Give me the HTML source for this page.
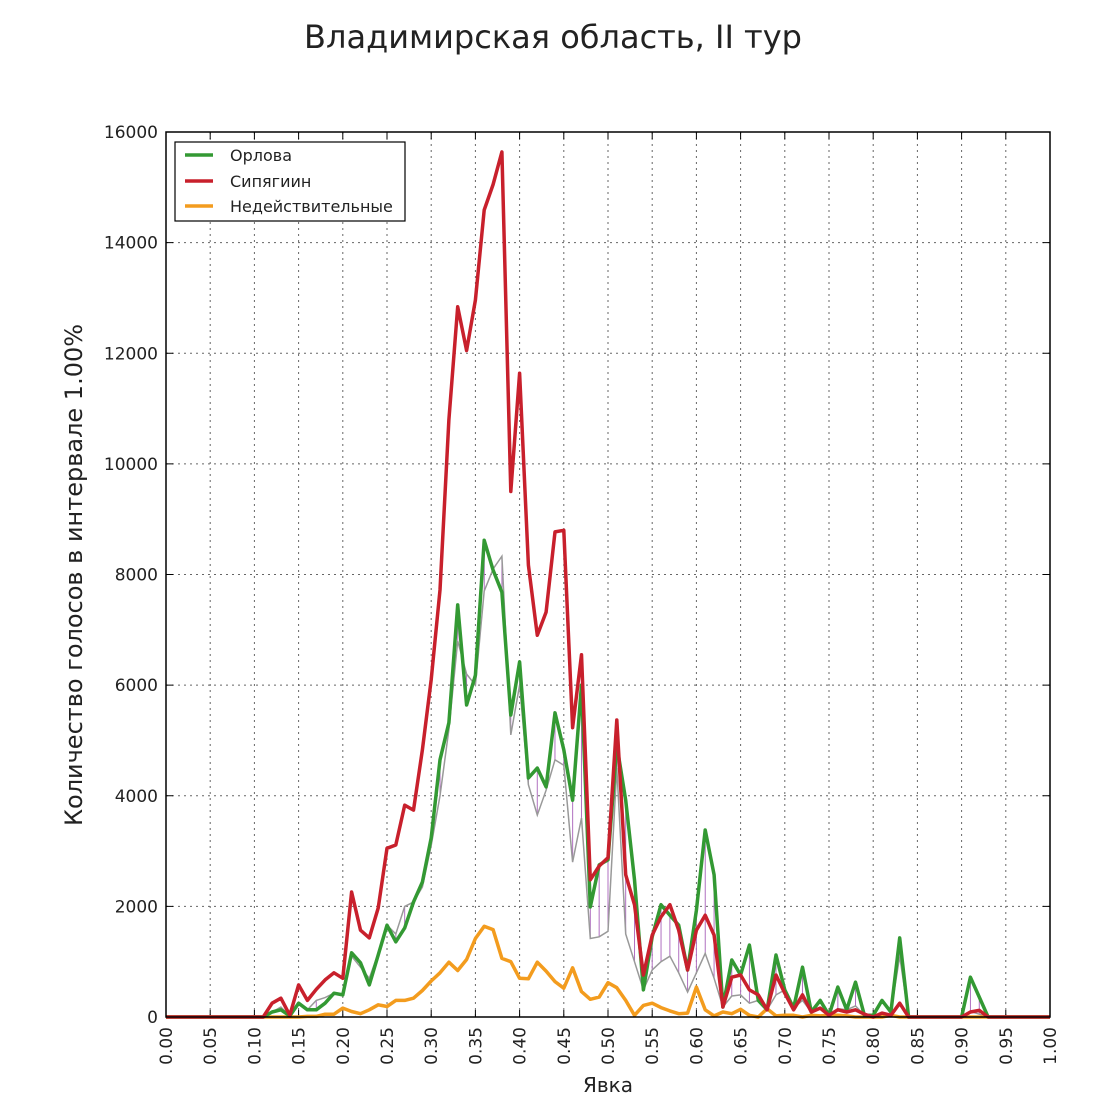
<!DOCTYPE html>
<html><head><meta charset="utf-8"><style>
body{margin:0;background:#fff}
svg text{font-family:"DejaVu Sans","Liberation Sans",sans-serif;fill:#222}
</style></head><body>
<svg id="s" width="1106" height="1106" xmlns="http://www.w3.org/2000/svg">
<rect width="1106" height="1106" fill="#fff"/>
<text x="553" y="48" font-size="32" text-anchor="middle">Владимирская область, II тур</text>
<g id="g"></g>
<text x="608" y="1092" font-size="20" text-anchor="middle">Явка</text>
<text transform="translate(82,575) rotate(-90)" font-size="24" text-anchor="middle">Количество голосов в интервале 1.00%</text>
</svg>
<script>
const L=166,R=1050,T=132,B=1017;
const X=v=>L+v*(R-L), Y=v=>B-v/16000*(B-T);
let h='';
for(let i=0;i<=20;i++){const x=X(i*0.05);
 if(i>0&&i<20)h+=`<line x1="${x}" y1="${T}" x2="${x}" y2="${B}" stroke="#666" stroke-dasharray="2,4" stroke-width="1"/>`;
 h+=`<line x1="${x}" y1="${B}" x2="${x}" y2="${B-7}" stroke="#000"/><line x1="${x}" y1="${T}" x2="${x}" y2="${T+7}" stroke="#000"/>`;
 h+=`<text transform="translate(${x+6},${B+10}) rotate(-90)" font-size="17" text-anchor="end">${(i*0.05).toFixed(2)}</text>`;}
for(let i=0;i<=8;i++){const y=Y(i*2000);
 if(i>0&&i<8)h+=`<line x1="${L}" y1="${y}" x2="${R}" y2="${y}" stroke="#666" stroke-dasharray="2,4" stroke-width="1"/>`;
 h+=`<line x1="${L}" y1="${y}" x2="${L+7}" y2="${y}" stroke="#000"/><line x1="${R}" y1="${y}" x2="${R-7}" y2="${y}" stroke="#000"/>`;
 h+=`<text x="${L-8}" y="${y+6}" font-size="17" text-anchor="end">${i*2000}</text>`;}
function full(start,arr){const a=new Array(101).fill(0);arr.forEach((v,k)=>a[start+k]=v);return a;}
const red=full(11,[0,250,340,30,580,300,500,670,800,700,2260,1570,1430,1970,3050,3110,3830,3740,4830,6100,7720,10800,12840,12050,12960,14590,15050,15640,9500,11640,8170,6900,7320,8770,8800,5230,6550,2480,2730,2880,5370,2570,2030,760,1480,1810,2030,1570,850,1570,1840,1480,180,720,760,490,400,130,760,430,130,400,90,160,30,130,90,130,50,0,70,30,250,0,0,0,0,0,0,0,90,120,0]);
const grn=full(11,[0,90,130,20,250,130,130,250,430,400,1160,980,580,1120,1660,1360,1610,2080,2440,3240,4650,5320,7450,5640,6180,8620,8080,7680,5460,6420,4320,4500,4160,5500,4830,3920,6000,1990,2750,2840,4920,3920,2480,490,1450,2030,1840,1660,850,1930,3380,2570,180,1030,760,1300,300,130,1120,490,160,900,90,300,30,540,130,630,30,30,300,90,1430,0,0,0,0,0,0,0,720,360,0]);
const gry=grn.slice();
const gd={13:180,17:300,18:350,21:1100,22:900,23:700,24:1150,26:1500,27:2000,29:2350,30:3100,31:4000,32:5200,33:6800,34:6200,35:6000,36:7700,37:8100,38:8330,39:5100,40:6000,41:4200,42:3650,43:4100,44:4650,45:4550,46:2800,47:3600,48:1420,49:1450,50:1550,51:4500,52:1500,53:1000,55:850,56:1000,57:1100,58:800,59:450,60:800,61:1150,62:700,64:380,65:400,66:250,69:400,72:300,76:150,78:200,83:1100,91:100,92:50};
for(const k in gd)gry[k]=gd[k];
const org=full(12,[0,0,0,0,10,10,50,50,160,100,60,130,220,190,300,300,340,480,650,800,990,840,1040,1420,1640,1580,1060,1000,700,690,990,830,640,520,890,460,320,360,620,530,300,30,210,250,170,110,60,70,540,130,20,90,60,140,30,0,150,20,30,30,0,30,20,30,30,20,0,0,0,0,30,0]);
const pts=a=>a.map((v,i)=>X(i/100).toFixed(1)+','+Y(v).toFixed(1)).join(' ');
for(let i=0;i<=100;i++)if(Math.abs(grn[i]-gry[i])>100)h+=`<line x1="${X(i/100)}" y1="${Y(grn[i])}" x2="${X(i/100)}" y2="${Y(gry[i])}" stroke="#b070c0" stroke-width="1"/>`;
h+=`<polyline points="${pts(gry)}" fill="none" stroke="#999" stroke-width="1.5"/>`;
h+=`<polyline points="${pts(org)}" fill="none" stroke="#f39c1e" stroke-width="3.5" stroke-linejoin="round"/>`;
h+=`<polyline points="${pts(grn)}" fill="none" stroke="#339933" stroke-width="3.5" stroke-linejoin="round"/>`;
h+=`<polyline points="${pts(red)}" fill="none" stroke="#c8202c" stroke-width="3.5" stroke-linejoin="round"/>`;
h+=`<rect x="${L}" y="${T}" width="${R-L}" height="${B-T}" fill="none" stroke="#000" stroke-width="1.5"/>`;
h+=`<rect x="175" y="142" width="230" height="79" fill="#fff" stroke="#000" stroke-width="1.2"/>`;
[["Орлова","#339933",155],["Сипягиин","#c8202c",181],["Недействительные","#f39c1e",206]].forEach(([t,c,y])=>{
 h+=`<line x1="185" y1="${y}" x2="213" y2="${y}" stroke="${c}" stroke-width="3.5"/><text x="230" y="${y+6}" font-size="16">${t}</text>`;});
document.getElementById('g').innerHTML=h;
</script>
</body></html>
